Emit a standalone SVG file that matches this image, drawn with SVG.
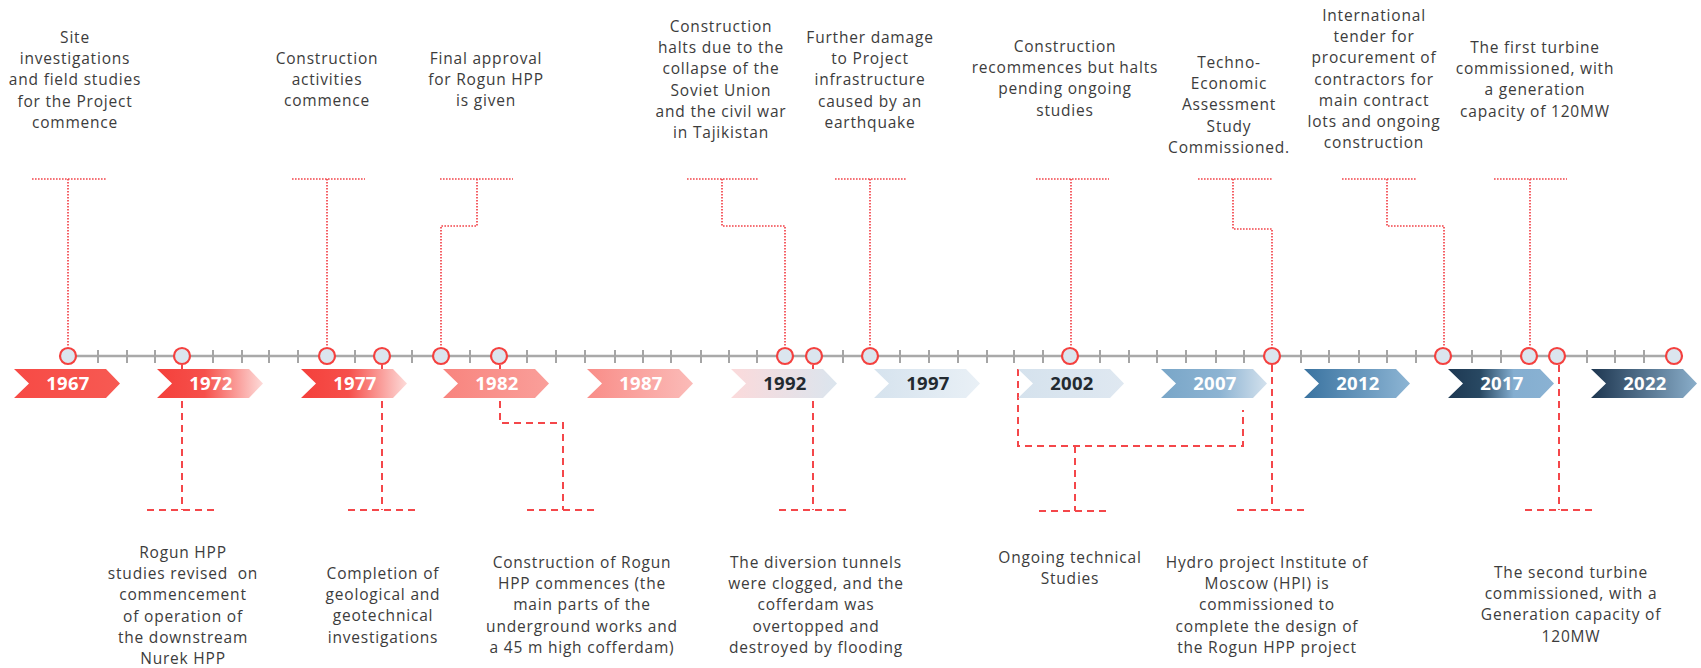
<svg xmlns="http://www.w3.org/2000/svg" width="1701" height="668" viewBox="0 0 1701 668">
<style>
.lbl{font-family:"Open Sans","Liberation Sans",sans-serif;font-size:15.5px;fill:#3c3c3c;text-anchor:middle;letter-spacing:0.8px}
.yr{font-family:"Open Sans","Liberation Sans",sans-serif;font-size:18.5px;font-weight:700;text-anchor:middle;letter-spacing:0.3px}
.w{fill:#ffffff}.d{fill:#232a30}
.axis{stroke:#a9a9a9;stroke-width:2.5;fill:none}
.tick{stroke:#a5a5a5;stroke-width:2}
.dot{stroke:#f2444a;stroke-width:1.7;stroke-dasharray:1.6 1.4;fill:none}
.dash{stroke:#f4474a;stroke-width:2;stroke-dasharray:7 5;fill:none}
.ms{fill:#dbe5ee;stroke:#f4413f;stroke-width:2.2}
</style>
<defs>
<polygon id="chev" points="0,0 92,0 106,14.5 92,29 0,29 15,14.5"/>
<linearGradient id="g1967"><stop offset="0" stop-color="#f74a45"/><stop offset="1" stop-color="#f75a53"/></linearGradient>
<linearGradient id="g1972"><stop offset="0" stop-color="#f4403b"/><stop offset="0.45" stop-color="#f6504b"/><stop offset="1" stop-color="#fddbd9"/></linearGradient>
<linearGradient id="g1982"><stop offset="0" stop-color="#f8847e"/><stop offset="1" stop-color="#fa9f9a"/></linearGradient>
<linearGradient id="g1987"><stop offset="0" stop-color="#f98d88"/><stop offset="1" stop-color="#fbbbb8"/></linearGradient>
<linearGradient id="g1992"><stop offset="0" stop-color="#fbdadb"/><stop offset="1" stop-color="#dbe5ee"/></linearGradient>
<linearGradient id="g1997"><stop offset="0" stop-color="#d6e3ee"/><stop offset="1" stop-color="#e9f0f6"/></linearGradient>
<linearGradient id="g2002"><stop offset="0" stop-color="#d5e2ed"/><stop offset="1" stop-color="#dfe8f1"/></linearGradient>
<linearGradient id="g2007"><stop offset="0" stop-color="#79a6c8"/><stop offset="0.55" stop-color="#8cb3d2"/><stop offset="1" stop-color="#d3e1ed"/></linearGradient>
<linearGradient id="g2012"><stop offset="0" stop-color="#3a73a0"/><stop offset="1" stop-color="#8db5d4"/></linearGradient>
<linearGradient id="g2017"><stop offset="0" stop-color="#1d3852"/><stop offset="0.3" stop-color="#284862"/><stop offset="0.62" stop-color="#84aed0"/><stop offset="1" stop-color="#8ab2d3"/></linearGradient>
<linearGradient id="g2022"><stop offset="0" stop-color="#1d3650"/><stop offset="1" stop-color="#8aaeca"/></linearGradient>
</defs>

<g id="axis">
<line class="axis" x1="68" y1="356" x2="1674" y2="356"/>
<path class="tick" d="M98,350V363M127,350V363M155,350V363M213,350V363M242,350V363M269,350V363M298,350V363M355,350V363M412,350V363M470,350V363M527,350V363M556,350V363M585,350V363M615,350V363M643,350V363M671,350V363M701,350V363M729,350V363M757,350V363M843,350V363M900,350V363M929,350V363M958,350V363M987,350V363M1014,350V363M1043,350V363M1100,350V363M1129,350V363M1157,350V363M1186,350V363M1216,350V363M1244,350V363M1301,350V363M1329,350V363M1359,350V363M1387,350V363M1416,350V363M1472,350V363M1501,350V363M1587,350V363M1615,350V363M1644,350V363"/>
</g>

<g id="connectors">
<path class="dot" d="M32,179H106M68,179V347"/>
<path class="dot" d="M292,179H365M327,179V347"/>
<path class="dot" d="M440,179H513M477,179V226H441V347"/>
<path class="dot" d="M687,179H759M722,179V226H785V347"/>
<path class="dot" d="M835,179H907M870,179V347"/>
<path class="dot" d="M1036,179H1109M1071,179V347"/>
<path class="dot" d="M1198,179H1272M1233,179V229H1272V347"/>
<path class="dot" d="M1342,179H1416M1387,179V226H1444V347"/>
<path class="dot" d="M1494,179H1567M1530,179V347"/>
<path class="dash" d="M182,365V510M147,510H218"/>
<path class="dash" d="M382,365V510M348,510H418"/>
<path class="dash" d="M500,365V423H563V510M527,510H597"/>
<path class="dash" d="M813,365V510M779,510H846"/>
<path class="dash" d="M1018,369V446H1243V410M1075,446V511M1039,511H1109"/>
<path class="dash" d="M1272,365V510M1237,510H1307"/>
<path class="dash" d="M1559,365V510M1525,510H1595"/>
</g>

<g id="years">
<g id="y1967"><use href="#chev" x="14" y="369" fill="url(#g1967)"/><text class="yr w" x="68" y="390">1967</text></g>
<g id="y1972"><use href="#chev" x="157" y="369" fill="url(#g1972)"/><text class="yr w" x="211" y="390">1972</text></g>
<g id="y1977"><use href="#chev" x="301" y="369" fill="url(#g1972)"/><text class="yr w" x="355" y="390">1977</text></g>
<g id="y1982"><use href="#chev" x="443" y="369" fill="url(#g1982)"/><text class="yr w" x="497" y="390">1982</text></g>
<g id="y1987"><use href="#chev" x="587" y="369" fill="url(#g1987)"/><text class="yr w" x="641" y="390">1987</text></g>
<g id="y1992"><use href="#chev" x="731" y="369" fill="url(#g1992)"/><text class="yr d" x="785" y="390">1992</text></g>
<g id="y1997"><use href="#chev" x="874" y="369" fill="url(#g1997)"/><text class="yr d" x="928" y="390">1997</text></g>
<g id="y2002"><use href="#chev" x="1018" y="369" fill="url(#g2002)"/><text class="yr d" x="1072" y="390">2002</text></g>
<g id="y2007"><use href="#chev" x="1161" y="369" fill="url(#g2007)"/><text class="yr w" x="1215" y="390">2007</text></g>
<g id="y2012"><use href="#chev" x="1304" y="369" fill="url(#g2012)"/><text class="yr w" x="1358" y="390">2012</text></g>
<g id="y2017"><use href="#chev" x="1448" y="369" fill="url(#g2017)"/><text class="yr w" x="1502" y="390">2017</text></g>
<g id="y2022"><use href="#chev" x="1591" y="369" fill="url(#g2022)"/><text class="yr w" x="1645" y="390">2022</text></g>
</g>

<g id="milestones">
<circle class="ms" cx="68" cy="356" r="8"/>
<circle class="ms" cx="182" cy="356" r="8"/>
<circle class="ms" cx="327" cy="356" r="8"/>
<circle class="ms" cx="382" cy="356" r="8"/>
<circle class="ms" cx="441" cy="356" r="8"/>
<circle class="ms" cx="499" cy="356" r="8"/>
<circle class="ms" cx="785" cy="356" r="8"/>
<circle class="ms" cx="814" cy="356" r="8"/>
<circle class="ms" cx="870" cy="356" r="8"/>
<circle class="ms" cx="1070" cy="356" r="8"/>
<circle class="ms" cx="1272" cy="356" r="8"/>
<circle class="ms" cx="1443" cy="356" r="8"/>
<circle class="ms" cx="1529" cy="356" r="8"/>
<circle class="ms" cx="1557" cy="356" r="8"/>
<circle class="ms" cx="1674" cy="356" r="8"/>
</g>

<g id="label-site"><text class="lbl"><tspan x="75" y="43">Site</tspan><tspan x="75" y="64.2">investigations</tspan><tspan x="75" y="85.4">and field studies</tspan><tspan x="75" y="106.6">for the Project</tspan><tspan x="75" y="127.8">commence</tspan></text></g>
<g id="label-construction"><text class="lbl"><tspan x="327" y="64">Construction</tspan><tspan x="327" y="85.2">activities</tspan><tspan x="327" y="106.4">commence</tspan></text></g>
<g id="label-approval"><text class="lbl"><tspan x="486" y="64">Final approval</tspan><tspan x="486" y="85.2">for Rogun HPP</tspan><tspan x="486" y="106.4">is given</tspan></text></g>
<g id="label-halts"><text class="lbl"><tspan x="721" y="32">Construction</tspan><tspan x="721" y="53.2">halts due to the</tspan><tspan x="721" y="74.4">collapse of the</tspan><tspan x="721" y="95.6">Soviet Union</tspan><tspan x="721" y="116.8">and the civil war</tspan><tspan x="721" y="138">in Tajikistan</tspan></text></g>
<g id="label-earthquake"><text class="lbl"><tspan x="870" y="43">Further damage</tspan><tspan x="870" y="64.2">to Project</tspan><tspan x="870" y="85.4">infrastructure</tspan><tspan x="870" y="106.6">caused by an</tspan><tspan x="870" y="127.8">earthquake</tspan></text></g>
<g id="label-recommences"><text class="lbl"><tspan x="1065" y="52">Construction</tspan><tspan x="1065" y="73.2">recommences but halts</tspan><tspan x="1065" y="94.4">pending ongoing</tspan><tspan x="1065" y="115.6">studies</tspan></text></g>
<g id="label-techno"><text class="lbl"><tspan x="1229" y="68">Techno-</tspan><tspan x="1229" y="89.2">Economic</tspan><tspan x="1229" y="110.4">Assessment</tspan><tspan x="1229" y="131.6">Study</tspan><tspan x="1229" y="152.8">Commissioned.</tspan></text></g>
<g id="label-tender"><text class="lbl"><tspan x="1374" y="21">International</tspan><tspan x="1374" y="42.2">tender for</tspan><tspan x="1374" y="63.4">procurement of</tspan><tspan x="1374" y="84.6">contractors for</tspan><tspan x="1374" y="105.8">main contract</tspan><tspan x="1374" y="127">lots and ongoing</tspan><tspan x="1374" y="148.2">construction</tspan></text></g>
<g id="label-first-turbine"><text class="lbl"><tspan x="1535" y="53">The first turbine</tspan><tspan x="1535" y="74.2">commissioned, with</tspan><tspan x="1535" y="95.4">a generation</tspan><tspan x="1535" y="116.6">capacity of 120MW</tspan></text></g>

<g id="label-revised"><text class="lbl"><tspan x="183" y="558">Rogun HPP</tspan><tspan x="183" y="579.2" style="white-space:pre">studies revised  on</tspan><tspan x="183" y="600.4">commencement</tspan><tspan x="183" y="621.6">of operation of</tspan><tspan x="183" y="642.8">the downstream</tspan><tspan x="183" y="664">Nurek HPP</tspan></text></g>
<g id="label-completion"><text class="lbl"><tspan x="383" y="579">Completion of</tspan><tspan x="383" y="600.2">geological and</tspan><tspan x="383" y="621.4">geotechnical</tspan><tspan x="383" y="642.6">investigations</tspan></text></g>
<g id="label-rogun-commences"><text class="lbl"><tspan x="582" y="568">Construction of Rogun</tspan><tspan x="582" y="589.2">HPP commences (the</tspan><tspan x="582" y="610.4">main parts of the</tspan><tspan x="582" y="631.6">underground works and</tspan><tspan x="582" y="652.8">a 45 m high cofferdam)</tspan></text></g>
<g id="label-diversion"><text class="lbl"><tspan x="816" y="568">The diversion tunnels</tspan><tspan x="816" y="589.2">were clogged, and the</tspan><tspan x="816" y="610.4">cofferdam was</tspan><tspan x="816" y="631.6">overtopped and</tspan><tspan x="816" y="652.8">destroyed by flooding</tspan></text></g>
<g id="label-ongoing"><text class="lbl"><tspan x="1070" y="563">Ongoing technical</tspan><tspan x="1070" y="584.2">Studies</tspan></text></g>
<g id="label-hpi"><text class="lbl"><tspan x="1267" y="568">Hydro project Institute of</tspan><tspan x="1267" y="589.2">Moscow (HPI) is</tspan><tspan x="1267" y="610.4">commissioned to</tspan><tspan x="1267" y="631.6">complete the design of</tspan><tspan x="1267" y="652.8">the Rogun HPP project</tspan></text></g>
<g id="label-second-turbine"><text class="lbl"><tspan x="1571" y="578">The second turbine</tspan><tspan x="1571" y="599.2">commissioned, with a</tspan><tspan x="1571" y="620.4">Generation capacity of</tspan><tspan x="1571" y="641.6">120MW</tspan></text></g>
</svg>
